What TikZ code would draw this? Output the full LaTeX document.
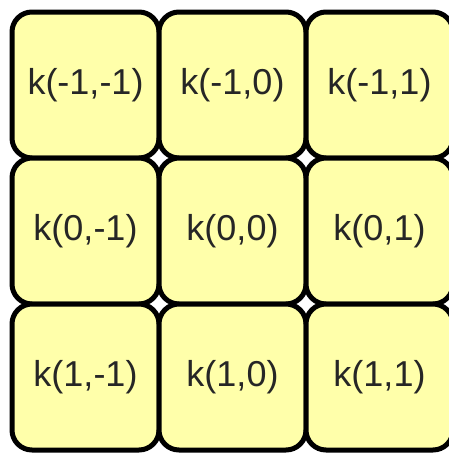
\documentclass[tikz,border=0pt]{standalone}
\usepackage{fontspec}
\setmainfont{Liberation Sans}
\definecolor{cellfill}{HTML}{FFFFAA}
\definecolor{celltext}{HTML}{262626}
\begin{document}
\begin{tikzpicture}[x=1pt,y=-1pt,
  cell/.style={draw=black,fill=cellfill,line width=5pt,rounded corners=20pt,
    minimum width=147pt,minimum height=146pt,inner sep=0pt,outer sep=0pt,
    text=celltext,font=\fontsize{36}{40}\selectfont}]
\useasboundingbox (0,0) rectangle (449,459);
\clip (0,0) rectangle (449,459);
\node[cell] (a11) at (85.5,85) {k(-1,-1)};
\node[cell] (a12) at (232.5,85) {k(-1,0)};
\node[cell] (a13) at (379.5,85) {k(-1,1)};
\node[cell] (a21) at (85.5,231) {k(0,-1)};
\node[cell] (a22) at (232.5,231) {k(0,0)};
\node[cell] (a23) at (379.5,231) {k(0,1)};
\node[cell] (a31) at (85.5,377) {k(1,-1)};
\node[cell] (a32) at (232.5,377) {k(1,0)};
\node[cell] (a33) at (379.5,377) {k(1,1)};
\end{tikzpicture}
\end{document}
